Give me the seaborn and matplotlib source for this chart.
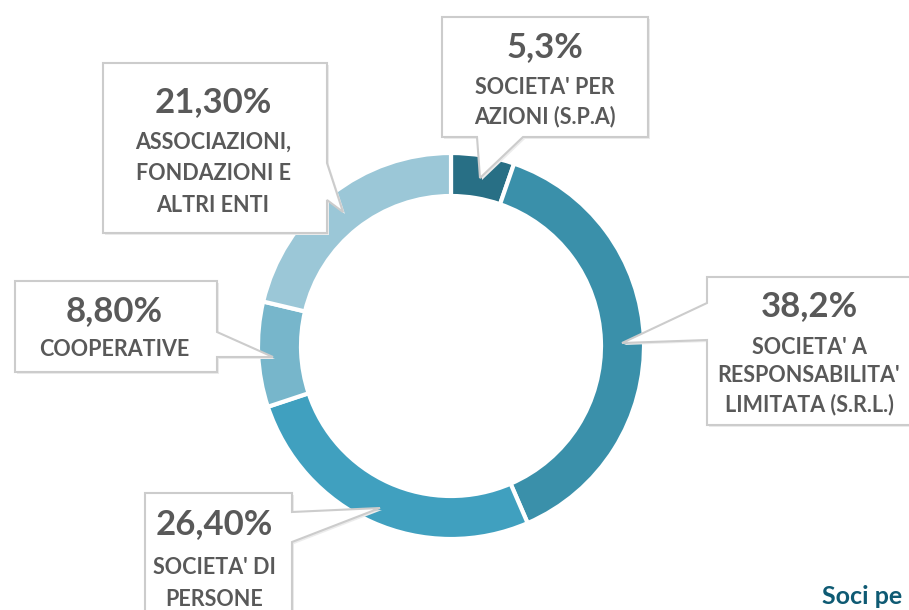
#!/usr/bin/env python3
"""
Ciambella: soci per forma giuridica
"""
import matplotlib
matplotlib.use('Agg')
import matplotlib.pyplot as plt
from matplotlib.patches import Polygon
import seaborn as sns

sns.set_theme(style='white')
plt.rcParams['font.family'] = ['Lato', 'DejaVu Sans']

# dati (ordine orario partendo da ore 12)
CATEGORIE = ["SOCIETA' PER\nAZIONI (S.P.A)",
             "SOCIETA' A\nRESPONSABILITA'\nLIMITATA (S.R.L.)",
             "SOCIETA' DI\nPERSONE",
             "COOPERATIVE",
             "ASSOCIAZIONI,\nFONDAZIONI E\nALTRI ENTI"]
VALORI = [5.3, 38.2, 26.4, 8.8, 21.3]
ETICHETTE = ['5,3%', '38,2%', '26,40%', '8,80%', '21,30%']
COLORI = ['#286f85', '#3a90aa', '#40a0bf', '#77b6cb', '#9bc7d7']

W, H = 909, 610
TESTO = '#595959'
BORDO = '#cccccc'


def py(y):
    # coordinate in pixel dall'alto -> coordinate dati
    return H - y


# box dei richiami: (x0, y0, x1, y1), punti del puntatore, centro testo x, y percentuale, y righe
CALLOUT = [
    dict(box=(442, 17, 648, 137), ptr=[(523, 137), (480, 178), (477, 137)], side='bottom',
         tx=545, yp=47, yl=[88, 117]),
    dict(box=(707, 277, 940, 425), ptr=[(707, 303), (622, 343), (707, 340)], side='left',
         tx=809, yp=306, yl=[348, 376, 405]),
    dict(box=(145, 493, 292, 660), ptr=[(292, 512), (380, 508), (292, 542)], side='right',
         tx=214, yp=524, yl=[568, 599]),
    dict(box=(15, 281, 217, 372), ptr=[(217, 332), (273, 357), (217, 357)], side='right',
         tx=114, yp=311, yl=[349]),
    dict(box=(103, 63, 327, 233), ptr=[(327, 163), (343, 212), (327, 200)], side='right',
         tx=213, yp=102, yl=[142, 174, 205]),
]


def callout_poly(c):
    x0, y0, x1, y1 = c['box']
    p = c['ptr']
    if c['side'] == 'bottom':
        pts = [(x0, y0), (x1, y0), (x1, y1)] + p + [(x0, y1)]
    elif c['side'] == 'left':
        pts = [(x0, y0), (x1, y0), (x1, y1), (x0, y1)] + p[::-1]
    else:  # right
        pts = [(x0, y0), (x1, y0)] + p + [(x1, y1), (x0, y1)]
    return [(x, py(y)) for x, y in pts]


def main():
    fig = plt.figure(figsize=(W / 100, H / 100), dpi=100)
    ax = fig.add_axes([0, 0, 1, 1])

    # ciambella
    cx, cy, r = 451, 346, 193
    ax.pie(VALORI, colors=COLORI, startangle=90, counterclock=False,
           center=(cx, py(cy)), radius=r,
           wedgeprops=dict(width=43, edgecolor='white', linewidth=3))

    # richiami
    for c, cat, et in zip(CALLOUT, CATEGORIE, ETICHETTE):
        pts = callout_poly(c)
        ombra = [(x + 2, y - 2) for x, y in pts]
        ax.add_patch(Polygon(ombra, closed=True, facecolor='#ececec',
                             edgecolor='none', zorder=4))
        ax.add_patch(Polygon(pts, closed=True, facecolor='white',
                             edgecolor=BORDO, linewidth=1.5, zorder=5))
        ax.text(c['tx'], py(c['yp']), et, ha='center', va='center',
                fontsize=25, fontweight='bold', color=TESTO, zorder=6)
        for riga, yy in zip(cat.split('\n'), c['yl']):
            ax.text(c['tx'], py(yy), riga, ha='center', va='center',
                    fontsize=15.5, fontweight='bold', color=TESTO, zorder=6)

    # titolo in basso a destra (tagliato dal bordo come nell'originale)
    ax.text(822, py(604), 'Soci pe', ha='left', va='baseline',
            fontsize=18, fontweight='bold', color='#0e5a73')

    ax.set_xlim(0, W)
    ax.set_ylim(0, H)
    ax.set_aspect('equal')
    ax.axis('off')

    fig.savefig('out.png', dpi=100, facecolor='white')
    plt.close(fig)


if __name__ == '__main__':
    main()
